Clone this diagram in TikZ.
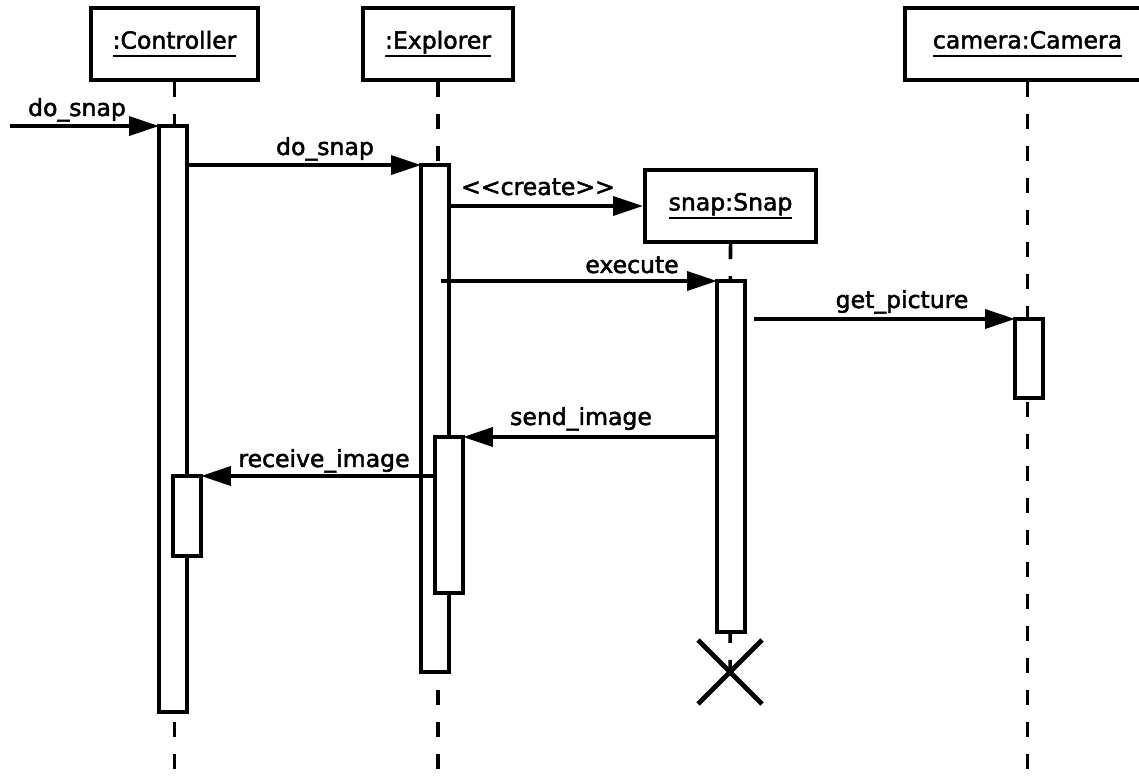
\documentclass[tikz,border=0pt]{standalone}
\usepackage{fontspec}
\setmainfont[FakeBold=2,AutoFakeBold=2]{DejaVu Sans}
\usetikzlibrary{arrows.meta}
\newcommand\myul[1]{\setbox0=\hbox{\vphantom{p}#1}\vtop{\copy0\kern0.8pt\hrule height 1.3pt width\wd0}}
\begin{document}
\begin{tikzpicture}[x=0.02cm,y=-0.02cm,
  font=\fontsize{13.4}{15}\selectfont\bfseries,
  objbox/.style={draw,line width=2.3pt,minimum height=1.44cm,inner sep=0pt,fill=white},
  act/.style={draw,fill=white,line width=2.1pt,minimum width=0.56cm,inner sep=0pt,outer sep=0pt},
  life/.style={line width=2pt,dash pattern=on 0.3cm off 0.34cm},
  msg/.style={line width=2.1pt,-{Triangle[length=0.6cm,width=0.38cm]}},
  lbl/.style={anchor=base,inner sep=0pt}]
\useasboundingbox (0,0) rectangle (1139,783);
\clip (0,0) rectangle (1139,783);
\fill[white] (0,0) rectangle (1139,783);
\coordinate (bottom) at (0,790);
% object boxes
\node[objbox,minimum width=3.34cm] (ctrl) at (174.5,44) {\myul{:Controller}};
\node[objbox,minimum width=3.0cm] (exp) at (438,44) {\myul{:Explorer}};
\node[objbox,minimum width=4.9cm] (cam) at (1027.5,44) {\myul{camera:Camera}};
\node[objbox,minimum width=3.42cm] (snap) at (730.5,206) {\myul{snap:Snap}};
\coordinate (xc) at (730,672);
% lifelines
\draw[life] (ctrl.south) -- (ctrl.south |- bottom);
\draw[life] (exp.south) -- (exp.south |- bottom);
\draw[life] (cam.south) -- (cam.south |- bottom);
\draw[life] (snap.south) -- (xc);
% activations
\node[act,minimum height=11.72cm] (ctrlA) at (173,419) {};
\node[act,minimum height=1.6cm] (ctrlB) at (187,516) {};
\node[act,minimum height=10.14cm] (expA) at (435,418.5) {};
\node[act,minimum height=3.12cm] (expB) at (449,515) {};
\node[act,minimum height=7.02cm] (snapA) at (731,456.5) {};
\node[act,minimum height=1.58cm] (camA) at (1029,358.5) {};
% destruction
\draw[line width=2.8pt] ([shift={(-32,-32)}]xc) -- ([shift={(32,32)}]xc)
  ([shift={(-32,32)}]xc) -- ([shift={(32,-32)}]xc);
% messages
\coordinate (in0) at (10,126);
\draw[msg] (ctrlA.north west -| in0) -- (ctrlA.north west);
\node[lbl] (l1) at (77,116) {do\_snap};
\draw[msg] (ctrlA.east |- expA.north) -- (expA.north west);
\node[lbl] (l2) at (325,155) {do\_snap};
\draw[msg] (expA.east |- snap.west) -- (snap.west);
\node[lbl] (l3) at (538,195) {<{}<create>{}>};
\coordinate (ex0) at (441,282);
\draw[msg] (snapA.north west -| ex0) -- (snapA.north west);
\node[lbl] (l4) at (632,273) {execute};
\coordinate (gp0) at (754,321);
\draw[msg] (camA.north west -| gp0) -- (camA.north west);
\node[lbl] (l5) at (902,308) {get\_picture};
\draw[msg] (snapA.west |- expB.north east) -- (expB.north east);
\node[lbl] (l6) at (581,425) {send\_image};
\draw[msg] (expB.west |- ctrlB.north east) -- (ctrlB.north east);
\node[lbl] (l7) at (324,467) {receive\_image};
\end{tikzpicture}
\end{document}
